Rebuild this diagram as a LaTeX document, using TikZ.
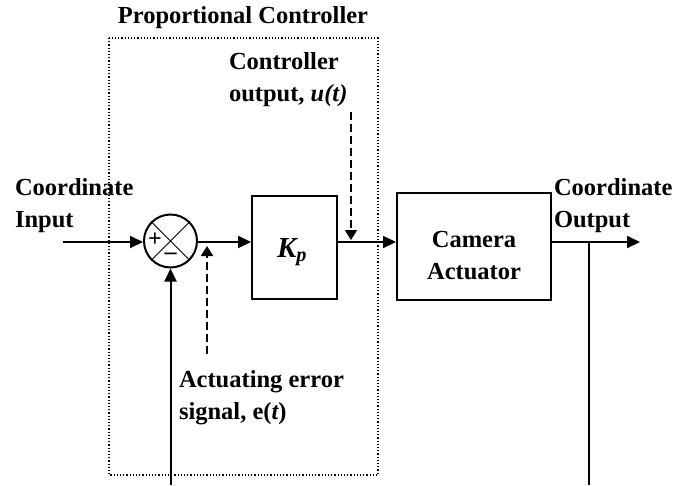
\documentclass[tikz,border=0pt]{standalone}
\usepackage{fontspec}
\setmainfont{Liberation Serif}
\usepackage{tikz}
\usetikzlibrary{arrows.meta, shapes}

\begin{document}
\begin{tikzpicture}[x=1pt, y=-1pt, line width=2pt, >={Triangle[length=13pt, width=12pt]},
		every node/.style={font=\fontsize{24.5}{32}\selectfont\bfseries},
		block/.style={draw, rectangle, inner sep=0pt},
		label/.style={align=left, anchor=west, inner sep=0pt}]
		\useasboundingbox (0, 0) rectangle (675, 485);
		
		% controller frame
		\draw[dotted, line width=1.2pt] (109, 38) rectangle (378, 475);
		\node (title) at (243, 18) {Proportional Controller};
		
		% blocks
		\node[draw, circle, minimum size=53pt, inner sep=0pt] (sum) at (170.5, 241) {};
		\draw[line width=1pt] (sum.north west) -- (sum.south east)
			(sum.north east) -- (sum.south west);
		\node[font=\fontsize{24}{24}\selectfont\bfseries, inner sep=0pt] (plus) at (155, 240) {+};
		\node[font=\fontsize{24}{24}\selectfont\bfseries, inner sep=0pt] (minus) at (170.5, 256) {–};
		\node[block, minimum width=85pt, minimum height=103pt] (kp) at (294.5, 247.5) {};
		\node[font=\fontsize{29}{32}\selectfont\bfseries] (kptxt) at (292, 252) {\itshape K\textsubscript{p}};
		\node[block, minimum width=154pt, minimum height=107pt] (cam) at (474, 246.5) {};
		\node[align=center] (camtxt) at (474, 256) {Camera\\Actuator};
		
		% end points
		\coordinate (in) at (63, 242);
		\coordinate (out) at (640, 242);
		\coordinate (fb) at (589, 242);
		\coordinate (fbend) at (589, 485);
		\coordinate (fbin) at (170.5, 485);
		\coordinate (e0) at (207, 354);
		\coordinate (e1) at (207, 246);
		\coordinate (u0) at (351, 112);
		\coordinate (u1) at (351, 240);
		
		% signals
		\draw[->] (in) -- (sum.west |- in);
		\draw[->] (sum.east |- in) -- (kp.west |- in);
		\draw[->] (kp.east |- in) -- (cam.west |- in);
		\draw[->] (cam.east |- out) -- (out);
		\draw (fb) -- (fbend);
		\draw[->] (fbin) -- (sum);
		\draw[-{Triangle[length=10pt, width=12pt]}, dash pattern=on 8pt off 4pt] (e0) -- (e1);
		\draw[-{Triangle[length=10pt, width=12pt]}, dash pattern=on 8pt off 4pt] (u0) -- (u1);
		
		% labels
		\node[label] (lin) at (14, 206) {Coordinate\\Input};
		\node[label] (lout) at (553, 206) {Coordinate\\Output};
		\node[label] (lu) at (228, 80) {Controller\\output, \itshape u(t)};
		\node[label] (le) at (178, 398) {Actuating error\\signal, e(\itshape t\upshape)};
	\end{tikzpicture}
\end{document}
